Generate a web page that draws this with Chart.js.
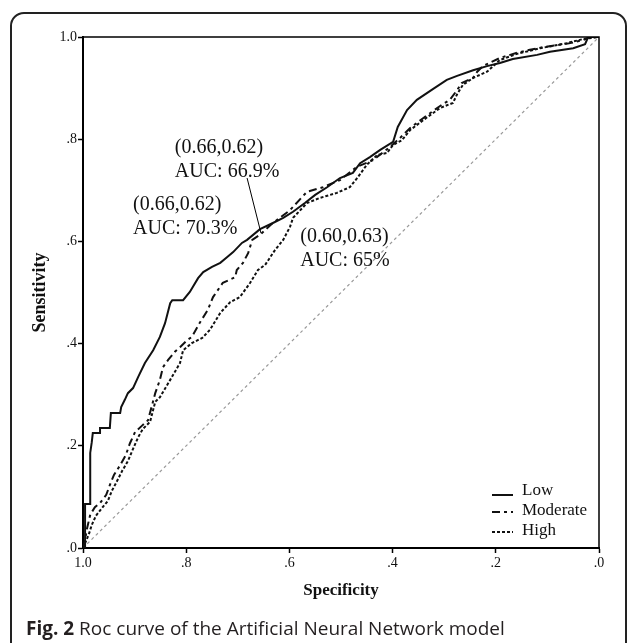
<!DOCTYPE html>
<html>
<head>
<meta charset="utf-8">
<script src="https://cdn.jsdelivr.net/npm/chart.js@4.4.1/dist/chart.umd.min.js"></script>
<style>
  body { margin: 0; background: #fff; }
  #frame { position: absolute; left: 10px; top: 12px; width: 613px; height: 660px;
           border: 2px solid #222; border-radius: 14px; }
  #roc { position: absolute; left: 0; top: 0; }
  #caption { position: absolute; left: 26px; top: 615px; font-family: "Open Sans", sans-serif;
             font-size: 19px; line-height: 26px; color: #231f20; white-space: nowrap; }
</style>
</head>
<body>
<div id="frame"></div>
<canvas id="roc" width="629" height="643"></canvas>
<div id="caption"><b>Fig. 2</b> Roc curve of the Artificial Neural Network model</div>
<script>
// specificity / sensitivity
var lowSpec = [1.000, 0.996, 0.996, 0.986, 0.986, 0.983, 0.981, 0.967, 0.967, 0.948, 0.946, 0.928, 0.926, 0.919, 0.913, 0.903, 0.893, 0.880, 0.864, 0.851, 0.841, 0.831, 0.827, 0.806, 0.793, 0.777, 0.767, 0.750, 0.734, 0.721, 0.709, 0.692, 0.682, 0.657, 0.632, 0.612, 0.593, 0.570, 0.550, 0.527, 0.502, 0.477, 0.463, 0.444, 0.424, 0.399, 0.390, 0.372, 0.353, 0.322, 0.295, 0.275, 0.244, 0.217, 0.192, 0.167, 0.120, 0.095, 0.050, 0.027, 0.021, 0.000];
var lowSens = [0.000, 0.000, 0.086, 0.086, 0.186, 0.207, 0.225, 0.225, 0.235, 0.235, 0.264, 0.264, 0.276, 0.290, 0.303, 0.313, 0.335, 0.362, 0.387, 0.413, 0.440, 0.479, 0.485, 0.485, 0.501, 0.528, 0.540, 0.550, 0.558, 0.569, 0.579, 0.597, 0.603, 0.624, 0.636, 0.646, 0.658, 0.675, 0.691, 0.706, 0.724, 0.734, 0.753, 0.765, 0.779, 0.795, 0.824, 0.857, 0.877, 0.898, 0.916, 0.924, 0.935, 0.943, 0.949, 0.957, 0.965, 0.971, 0.978, 0.986, 1.000, 1.000];

var modSpec = [1.000, 0.996, 0.992, 0.986, 0.977, 0.967, 0.955, 0.948, 0.940, 0.928, 0.917, 0.909, 0.899, 0.886, 0.874, 0.866, 0.860, 0.851, 0.845, 0.835, 0.822, 0.812, 0.798, 0.789, 0.773, 0.758, 0.748, 0.729, 0.705, 0.702, 0.690, 0.680, 0.672, 0.657, 0.632, 0.599, 0.566, 0.535, 0.502, 0.469, 0.438, 0.405, 0.386, 0.366, 0.341, 0.308, 0.289, 0.275, 0.266, 0.244, 0.236, 0.225, 0.192, 0.159, 0.134, 0.109, 0.081, 0.056, 0.031, 0.017, 0.000];
var modSens = [0.000, 0.016, 0.039, 0.065, 0.080, 0.088, 0.104, 0.123, 0.143, 0.162, 0.182, 0.205, 0.227, 0.239, 0.250, 0.280, 0.303, 0.329, 0.354, 0.368, 0.384, 0.393, 0.407, 0.413, 0.442, 0.466, 0.491, 0.519, 0.530, 0.544, 0.558, 0.577, 0.603, 0.613, 0.636, 0.661, 0.697, 0.706, 0.720, 0.746, 0.759, 0.785, 0.802, 0.822, 0.841, 0.865, 0.877, 0.896, 0.910, 0.920, 0.932, 0.943, 0.959, 0.969, 0.975, 0.980, 0.984, 0.988, 0.994, 1.000, 1.000];

var highSpec = [1.000, 0.994, 0.988, 0.983, 0.975, 0.965, 0.952, 0.944, 0.934, 0.924, 0.913, 0.903, 0.893, 0.884, 0.870, 0.860, 0.851, 0.831, 0.812, 0.806, 0.789, 0.769, 0.754, 0.734, 0.715, 0.696, 0.676, 0.661, 0.647, 0.628, 0.612, 0.599, 0.593, 0.566, 0.541, 0.508, 0.483, 0.467, 0.450, 0.430, 0.411, 0.399, 0.382, 0.366, 0.333, 0.308, 0.283, 0.275, 0.264, 0.244, 0.217, 0.192, 0.159, 0.114, 0.062, 0.031, 0.000];
var highSens = [0.000, 0.014, 0.029, 0.045, 0.063, 0.076, 0.092, 0.112, 0.131, 0.151, 0.170, 0.194, 0.217, 0.233, 0.247, 0.286, 0.295, 0.329, 0.362, 0.387, 0.401, 0.411, 0.427, 0.460, 0.481, 0.491, 0.519, 0.544, 0.554, 0.583, 0.603, 0.628, 0.646, 0.675, 0.685, 0.695, 0.706, 0.726, 0.750, 0.769, 0.773, 0.789, 0.798, 0.818, 0.843, 0.861, 0.871, 0.888, 0.906, 0.920, 0.932, 0.955, 0.967, 0.978, 0.988, 0.996, 1.000];

var refSpec = [1, 0];
var refSens = [0, 1];

var groupNames = ['Low', 'Moderate', 'High'];
var tickValues = [0, 0.2, 0.4, 0.6, 0.8, 1.0];

// text boxes: [specificity, sensitivity] of the first line's left edge
var notes = [
  { at: [0.822, 0.783], lines: ['(0.66,0.62)', 'AUC: 66.9%'] },
  { at: [0.903, 0.671], lines: ['(0.66,0.62)', 'AUC: 70.3%'] },
  { at: [0.579, 0.609], lines: ['(0.60,0.63)', 'AUC: 65%'] }
];
var pointer = [[0.682, 0.724], [0.655, 0.616]];

function pts(xs, ys) {
  return xs.map(function (x, i) { return { x: x, y: ys[i] }; });
}

function fmt(v) {
  var s = Number(v).toFixed(1);
  return s === '1.0' ? s : s.replace(/^0/, '');
}

var serif = 'Liberation Serif';

var extras = {
  id: 'extras',
  afterDatasetsDraw: function (chart) {
    var c = chart.ctx, a = chart.chartArea;
    var sx = chart.scales.x, sy = chart.scales.y;
    c.save();
    // frame top/right
    c.strokeStyle = '#000';
    c.lineWidth = 1.5;
    c.beginPath();
    c.moveTo(a.left, a.top); c.lineTo(a.right, a.top); c.lineTo(a.right, a.bottom);
    c.stroke();

    // annotations
    c.fillStyle = '#111';
    c.font = '20px "' + serif + '"';
    c.textBaseline = 'middle';
    c.textAlign = 'left';
    notes.forEach(function (n) {
      var x = sx.getPixelForValue(n.at[0]);
      var y = sy.getPixelForValue(n.at[1]);
      n.lines.forEach(function (t, i) { c.fillText(t, x, y + i * 24); });
    });
    c.lineWidth = 1;
    c.beginPath();
    c.moveTo(sx.getPixelForValue(pointer[0][0]), sy.getPixelForValue(pointer[0][1]));
    c.lineTo(sx.getPixelForValue(pointer[1][0]), sy.getPixelForValue(pointer[1][1]));
    c.stroke();

    // legend
    c.font = '17px "' + serif + '"';
    for (var i = 0; i < 3; i++) {
      var ds = chart.data.datasets[i];
      var y = a.bottom - 57 + i * 20;
      c.strokeStyle = ds.borderColor;
      c.lineWidth = 2;
      c.setLineDash(ds.borderDash || []);
      c.beginPath();
      c.moveTo(a.right - 107, i === 0 ? y + 4 : y + 1);
      c.lineTo(a.right - 86, i === 0 ? y + 4 : y + 1);
      c.stroke();
      c.setLineDash([]);
      c.fillText(ds.label, a.right - 77, y);
    }
    c.restore();
  }
};

new Chart(document.getElementById('roc'), {
  type: 'line',
  data: {
    datasets: [
      { label: groupNames[0], data: pts(lowSpec, lowSens), borderColor: '#111', borderWidth: 2 },
      { label: groupNames[1], data: pts(modSpec, modSens), borderColor: '#111', borderWidth: 2, borderDash: [8, 4, 3, 4] },
      { label: groupNames[2], data: pts(highSpec, highSens), borderColor: '#111', borderWidth: 2, borderDash: [3, 2] },
      { label: 'Reference', data: pts(refSpec, refSens), borderColor: '#999', borderWidth: 1.2, borderDash: [3, 3] }
    ]
  },
  options: {
    responsive: false,
    animation: false,
    elements: { point: { radius: 0 }, line: { tension: 0, fill: false } },
    layout: { padding: { top: 37, right: 30, bottom: 38, left: 0 } },
    plugins: { legend: { display: false }, tooltip: { enabled: false } },
    scales: {
      x: {
        type: 'linear', min: 0, max: 1, reverse: true,
        afterBuildTicks: function (s) { s.ticks = tickValues.map(function (v) { return { value: v }; }); },
        afterFit: function (s) { s.height = 57; },
        ticks: { callback: fmt, padding: 2, color: '#111', maxRotation: 0, font: { family: serif, size: 14 } },
        grid: { drawOnChartArea: false, tickLength: 5, color: '#000', tickWidth: 1.5 },
        border: { color: '#000', width: 2 },
        title: { display: true, text: 'Specificity', color: '#111', padding: { top: 0, bottom: 4 },
                 font: { family: serif, size: 17, weight: 'bold' } }
      },
      y: {
        type: 'linear', min: 0, max: 1,
        afterBuildTicks: function (s) { s.ticks = tickValues.map(function (v) { return { value: v }; }); },
        afterFit: function (s) { s.width = 83; },
        ticks: { callback: fmt, padding: 1, color: '#111', font: { family: serif, size: 14 } },
        grid: { drawOnChartArea: false, tickLength: 5, color: '#000', tickWidth: 1.5 },
        border: { color: '#000', width: 2 },
        title: { display: true, text: 'Sensitivity', color: '#111', padding: { top: 30, bottom: 0 },
                 font: { family: serif, size: 18, weight: 'bold' } }
      }
    }
  },
  plugins: [extras]
});
</script>
</body>
</html>
